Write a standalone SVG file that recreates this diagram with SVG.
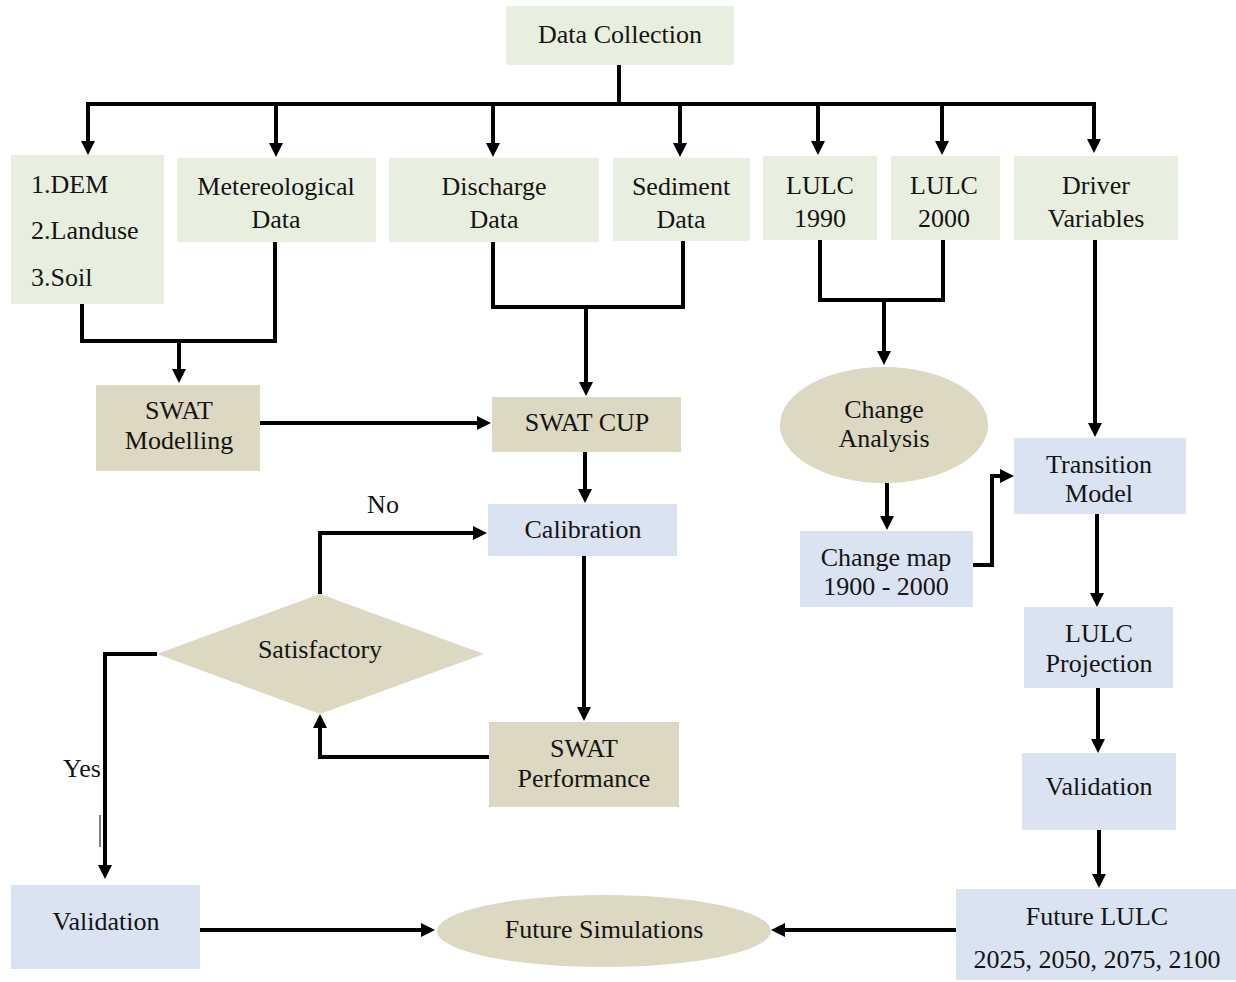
<svg xmlns="http://www.w3.org/2000/svg" width="1236" height="982" viewBox="0 0 1236 982">
<style>
.g{fill:#e9efdf}
.t{fill:#ddd8c1}
.b{fill:#dae3f1}
text{font-family:"Liberation Serif","Times New Roman",serif;font-size:26px;fill:#141414;text-anchor:middle}
.l{text-anchor:start}
.c{fill:none;stroke:#000;stroke-width:4}
.a{marker-end:url(#ah)}
</style>
<defs>
<marker id="ah" markerUnits="userSpaceOnUse" markerWidth="14" markerHeight="14" refX="9" refY="7" orient="auto">
<path d="M0,0 L14,7 L0,14 z" fill="#000"/>
</marker>
</defs>
<rect width="1236" height="982" fill="#fff"/>

<g id="n-datacollection"><rect class="g" x="506" y="6" width="228" height="59"/><text x="620" y="43">Data Collection</text></g>
<g id="n-dem"><rect class="g" x="11" y="155" width="153" height="149"/><text class="l" x="31" y="193">1.DEM</text><text class="l" x="31" y="239">2.Landuse</text><text class="l" x="31" y="286">3.Soil</text></g>
<g id="n-met"><rect class="g" x="177" y="158" width="199" height="84"/><text x="276" y="195">Metereological</text><text x="276" y="228">Data</text></g>
<g id="n-discharge"><rect class="g" x="389" y="158" width="210" height="84"/><text x="494" y="195">Discharge</text><text x="494" y="228">Data</text></g>
<g id="n-sediment"><rect class="g" x="613" y="158" width="137" height="83"/><text x="681" y="195">Sediment</text><text x="681" y="228">Data</text></g>
<g id="n-lulc1990"><rect class="g" x="763" y="156" width="114" height="84"/><text x="820" y="194">LULC</text><text x="820" y="227">1990</text></g>
<g id="n-lulc2000"><rect class="g" x="891" y="156" width="109" height="84"/><text x="944" y="194">LULC</text><text x="944" y="227">2000</text></g>
<g id="n-driver"><rect class="g" x="1014" y="156" width="164" height="84"/><text x="1096" y="194">Driver</text><text x="1096" y="227">Variables</text></g>

<g id="n-swatmodel"><rect class="t" x="96" y="385" width="164" height="86"/><text x="179" y="419">SWAT</text><text x="179" y="449">Modelling</text></g>
<g id="n-swatcup"><rect class="t" x="492" y="397" width="189" height="55"/><text x="587" y="431">SWAT CUP</text></g>
<g id="n-calibration"><rect class="b" x="488" y="504" width="189" height="52"/><text x="583" y="538">Calibration</text></g>
<g id="n-satisfactory"><polygon class="t" points="157,654 320,594 484,654 320,714"/><text x="320" y="658">Satisfactory</text></g>
<g id="n-swatperf"><rect class="t" x="489" y="722" width="190" height="85"/><text x="584" y="757">SWAT</text><text x="584" y="787">Performance</text></g>
<g id="n-validation1"><rect class="b" x="11" y="885" width="189" height="84"/><text x="106" y="930">Validation</text></g>
<g id="n-futuresim"><ellipse class="t" cx="604" cy="931" rx="167" ry="36"/><text x="604" y="938">Future Simulations</text></g>

<g id="n-changeanalysis"><ellipse class="t" cx="884" cy="425" rx="104" ry="58"/><text x="884" y="418">Change</text><text x="884" y="447">Analysis</text></g>
<g id="n-changemap"><rect class="b" x="800" y="531" width="173" height="76"/><text x="886" y="566">Change map</text><text x="886" y="595">1900 - 2000</text></g>
<g id="n-transition"><rect class="b" x="1014" y="438" width="172" height="76"/><text x="1099" y="473">Transition</text><text x="1099" y="502">Model</text></g>
<g id="n-projection"><rect class="b" x="1024" y="607" width="149" height="81"/><text x="1099" y="642">LULC</text><text x="1099" y="672">Projection</text></g>
<g id="n-validation2"><rect class="b" x="1022" y="753" width="154" height="77"/><text x="1099" y="795">Validation</text></g>
<g id="n-futurelulc"><rect class="b" x="956" y="889" width="280" height="91"/><text x="1097" y="925">Future LULC</text><text x="1097" y="968">2025, 2050, 2075, 2100</text></g>

<g id="connectors">
<path class="c" d="M619,65 V104"/>
<path class="c" d="M86,104 H1096"/>
<path class="c a" d="M88,102 V150"/>
<path class="c a" d="M276,102 V152"/>
<path class="c a" d="M493,102 V152"/>
<path class="c a" d="M680,102 V152"/>
<path class="c a" d="M818,102 V150"/>
<path class="c a" d="M942,102 V150"/>
<path class="c a" d="M1094,102 V148"/>
<path class="c" d="M82,304 V341 H275 V242"/>
<path class="c a" d="M179,341 V378"/>
<path class="c" d="M493,242 V307 H683 V241"/>
<path class="c a" d="M586,307 V391"/>
<path class="c a" d="M260,423 H486"/>
<path class="c a" d="M585,452 V498"/>
<path class="c a" d="M584,556 V716"/>
<path class="c a" d="M489,757 H320 V719"/>
<path class="c a" d="M320,594 V533 H482"/>
<path class="c a" d="M157,654 H105 V874"/>
<path class="c a" d="M200,930 H430"/>
<path class="c a" d="M956,930 H776"/>
<path class="c" d="M820,240 V300 H943 V240"/>
<path class="c a" d="M884,300 V360"/>
<path class="c a" d="M887,483 V525"/>
<path class="c a" d="M973,565 H992 V476 H1009"/>
<path class="c a" d="M1095,240 V432"/>
<path class="c a" d="M1097,514 V602"/>
<path class="c a" d="M1098,688 V748"/>
<path class="c a" d="M1099,830 V883"/>
<line x1="100" y1="815" x2="100" y2="847" stroke="#555" stroke-width="1.5"/>
<text x="383" y="513">No</text>
<text x="82" y="777">Yes</text>
</g>
</svg>
